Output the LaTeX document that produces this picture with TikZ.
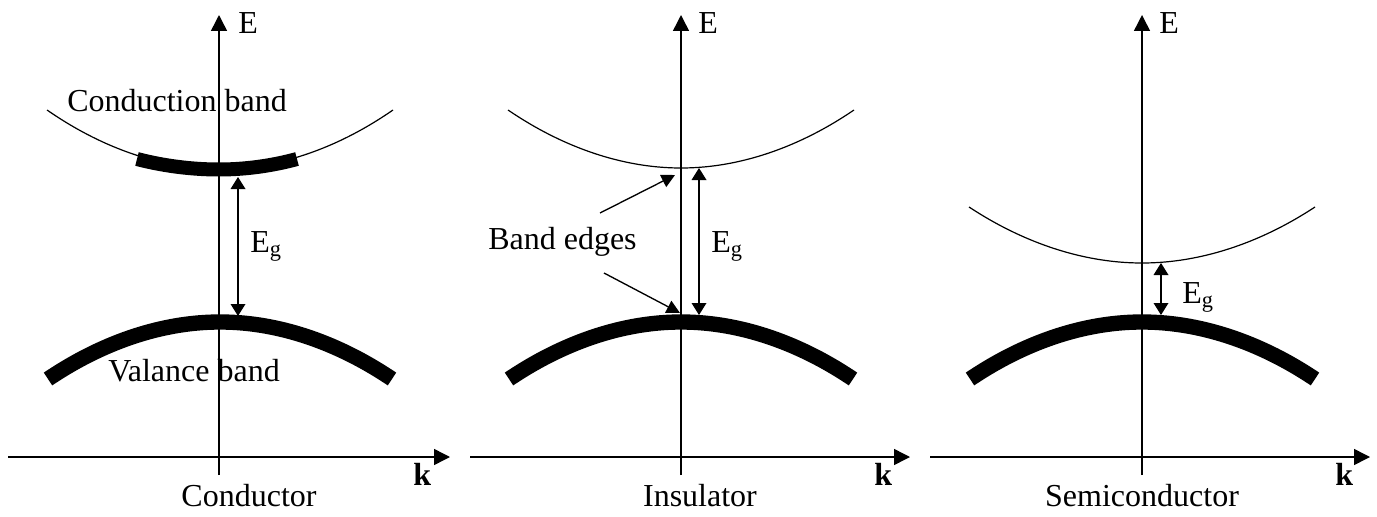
\documentclass[tikz,border=0pt]{standalone}
\usepackage{fontspec}
\setmainfont{Liberation Serif}
\usetikzlibrary{arrows.meta}
\begin{document}
\begin{tikzpicture}[x=0.75pt,y=-0.75pt,
  axis/.style={line width=1.1pt,-{Triangle[length=12pt,width=12pt]}},
  thinband/.style={line width=0.9pt},
  thickband/.style={line width=11.5pt,line cap=butt},
  cbthick/.style={line width=10.5pt,line cap=butt},
  gaparrow/.style={line width=1pt,{Triangle[length=9pt,width=11pt]}-{Triangle[length=9pt,width=11pt]}},
  edgearrow/.style={line width=1pt,-{Triangle[length=10pt,width=10pt]}},
  lbl/.style={inner sep=0pt,font=\fontsize{24}{28}\selectfont},
  klbl/.style={inner sep=0pt,font=\fontsize{24}{28}\selectfont\bfseries}]
\useasboundingbox (0,0) rectangle (1377,517);

% ---------- Conductor ----------
\coordinate (c-ybot) at (219,475);
\coordinate (c-ytop) at (219,15);
\coordinate (c-xl) at (8,457);
\coordinate (c-xr) at (450,457);
\draw[axis] (c-ybot) -- (c-ytop);
\draw[axis] (c-xl) -- (c-xr);
\node[lbl,anchor=base west] (c-E) at (238,34) {E};
\node[klbl,anchor=base west] (c-k) at (413,485) {k};
\node[lbl,anchor=base] (c-name) at (249,506) {Conductor};
\coordinate (c-cb1) at (47,110);
\coordinate (c-cbm) at (220,169);
\coordinate (c-cb2) at (393,110);
\draw[thinband] (c-cb1) parabola bend (c-cbm) (c-cb2);
\coordinate (c-tk1) at (137,159);
\coordinate (c-tkm) at (219,169.5);
\coordinate (c-tk2) at (297,159);
\draw[cbthick] (c-tk1) parabola bend (c-tkm) (c-tk2);
\coordinate (c-vb1) at (48,379);
\coordinate (c-vbm) at (220,322);
\coordinate (c-vb2) at (392,379);
\draw[thickband] (c-vb1) parabola bend (c-vbm) (c-vb2);
\coordinate (c-g1) at (238,177);
\coordinate (c-g2) at (238,316);
\draw[gaparrow] (c-g1) -- (c-g2);
\node[lbl,anchor=base west] (c-Eg) at (250,252) {E\textsubscript{g}};
\node[lbl,anchor=base west] (c-cbl) at (67,112) {Conduction band};
\node[lbl,anchor=base west] (c-vbl) at (108,381) {Valance band};

% ---------- Insulator ----------
\coordinate (i-ybot) at (681,475);
\coordinate (i-ytop) at (681,15);
\coordinate (i-xl) at (470,457);
\coordinate (i-xr) at (910,457);
\draw[axis] (i-ybot) -- (i-ytop);
\draw[axis] (i-xl) -- (i-xr);
\node[lbl,anchor=base west] (i-E) at (698,34) {E};
\node[klbl,anchor=base west] (i-k) at (874,485) {k};
\node[lbl,anchor=base] (i-name) at (700,506) {Insulator};
\coordinate (i-cb1) at (508,110);
\coordinate (i-cbm) at (681,168);
\coordinate (i-cb2) at (854,110);
\draw[thinband] (i-cb1) parabola bend (i-cbm) (i-cb2);
\coordinate (i-vb1) at (509,379);
\coordinate (i-vbm) at (681,322);
\coordinate (i-vb2) at (853,379);
\draw[thickband] (i-vb1) parabola bend (i-vbm) (i-vb2);
\coordinate (i-g1) at (699,168);
\coordinate (i-g2) at (699,315);
\draw[gaparrow] (i-g1) -- (i-g2);
\node[lbl,anchor=base west] (i-Eg) at (711,252) {E\textsubscript{g}};
\node[lbl,anchor=base west] (i-be) at (488,249) {Band edges};
\coordinate (i-a1s) at (600,213);
\coordinate (i-a1e) at (675,175);
\coordinate (i-a2s) at (604,273);
\coordinate (i-a2e) at (680,313);
\draw[edgearrow] (i-a1s) -- (i-a1e);
\draw[edgearrow] (i-a2s) -- (i-a2e);

% ---------- Semiconductor ----------
\coordinate (s-ybot) at (1142,475);
\coordinate (s-ytop) at (1142,15);
\coordinate (s-xl) at (930,457);
\coordinate (s-xr) at (1370,457);
\draw[axis] (s-ybot) -- (s-ytop);
\draw[axis] (s-xl) -- (s-xr);
\node[lbl,anchor=base west] (s-E) at (1159,34) {E};
\node[klbl,anchor=base west] (s-k) at (1335,485) {k};
\node[lbl,anchor=base] (s-name) at (1142,506) {Semiconductor};
\coordinate (s-cb1) at (969,207);
\coordinate (s-cbm) at (1142,263);
\coordinate (s-cb2) at (1315,207);
\draw[thinband] (s-cb1) parabola bend (s-cbm) (s-cb2);
\coordinate (s-vb1) at (970,379);
\coordinate (s-vbm) at (1142,322);
\coordinate (s-vb2) at (1315,379);
\draw[thickband] (s-vb1) parabola bend (s-vbm) (s-vb2);
\coordinate (s-g1) at (1161,263);
\coordinate (s-g2) at (1161,315);
\draw[gaparrow] (s-g1) -- (s-g2);
\node[lbl,anchor=base west] (s-Eg) at (1182,303) {E\textsubscript{g}};
\end{tikzpicture}
\end{document}
